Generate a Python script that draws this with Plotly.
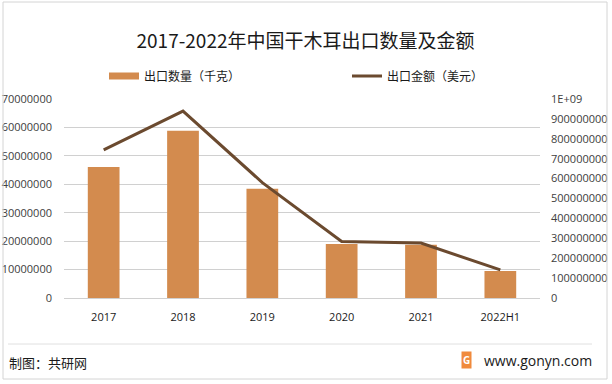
import plotly.graph_objects as go

categories = ["2017", "2018", "2019", "2020", "2021", "2022H1"]
quantity_kg = [46100000, 58800000, 38400000, 19000000, 18700000, 9500000]
amount_usd = [744000000, 939000000, 580000000, 284000000, 276000000, 141000000]
left_ticks = [0, 10000000, 20000000, 30000000, 40000000, 50000000, 60000000, 70000000]
right_ticks = [0, 100000000, 200000000, 300000000, 400000000, 500000000,
               600000000, 700000000, 800000000, 900000000, 1000000000]
right_labels = ["0", "100000000", "200000000", "300000000", "400000000", "500000000",
                "600000000", "700000000", "800000000", "900000000", "1E+09"]

FONT = "Open Sans, DejaVu Sans, sans-serif"
CJK = "Noto Sans CJK SC, Noto Sans, sans-serif"
BAR_COLOR = "#D38B4E"
LINE_COLOR = "#6B4A2F"

W, H = 612, 384
PL, PR, PT, PB = 64, 540, 99, 298
PW, PH = PR - PL, PB - PT


def px(x):
    return (x - PL) / PW


def py(y):
    return (PB - y) / PH


fig = go.Figure()
fig.add_trace(go.Bar(x=categories, y=quantity_kg, name="出口数量（千克）",
                     marker=dict(color=BAR_COLOR, line=dict(width=0)),
                     showlegend=False))
# legend-only swatch for the bars (wide flat rectangle as in the reference)
fig.add_trace(go.Scatter(x=[None], y=[None], name="出口数量（千克）", mode="lines",
                         line=dict(color=BAR_COLOR, width=7), legend="legend"))
fig.add_trace(go.Scatter(x=categories, y=amount_usd, name="出口金额（美元）",
                         mode="lines", line=dict(color=LINE_COLOR, width=3),
                         yaxis="y2", legend="legend2"))

fig.update_layout(
    width=W, height=H,
    margin=dict(l=PL, r=W - PR, t=PT, b=H - PB, autoexpand=False),
    paper_bgcolor="white", plot_bgcolor="white",
    bargap=0.6,
    title=dict(text="2017-2022年中国干木耳出口数量及金额", x=305.5 / W, xanchor="center",
               y=1 - 41 / H, yanchor="middle",
               font=dict(family=CJK, size=19, color="#1a1a1a")),
    xaxis=dict(showgrid=False, showline=True, linecolor="#d0d0d0", linewidth=1,
               ticks="", automargin=False, ticklabelstandoff=9,
               tickfont=dict(family=FONT, size=11, color="#1a1a1a")),
    yaxis=dict(range=[0, 70000000], tickvals=left_ticks, tickformat="d",
               showgrid=True, gridcolor="#d0d0d0", gridwidth=1, zeroline=False,
               ticks="", ticklabelstandoff=11, automargin=False,
               tickfont=dict(family=FONT, size=11, color="#404040")),
    yaxis2=dict(range=[0, 1000000000], overlaying="y", side="right",
                tickvals=right_ticks, ticktext=right_labels, showgrid=False,
                zeroline=False, ticks="", ticklabelstandoff=10, automargin=False,
                tickfont=dict(family=FONT, size=11, color="#404040")),
    legend=dict(xref="container", yref="container", x=104 / W, y=1 - 76 / H,
                xanchor="left", yanchor="middle", orientation="h", itemwidth=30,
                font=dict(family=CJK, size=12, color="#1a1a1a"), bgcolor="rgba(0,0,0,0)"),
    legend2=dict(xref="container", yref="container", x=347 / W, y=1 - 76 / H,
                 xanchor="left", yanchor="middle", orientation="h", itemwidth=30,
                 font=dict(family=CJK, size=12, color="#1a1a1a"), bgcolor="rgba(0,0,0,0)"),
    showlegend=True,
)

# footer separator and chart border
fig.add_shape(type="line", xref="paper", yref="paper",
              x0=px(8), x1=px(592), y0=py(344), y1=py(344),
              line=dict(color="#e0e0e0", width=1))
fig.add_shape(type="rect", xref="paper", yref="paper",
              x0=px(3), x1=px(607), y0=py(379), y1=py(2),
              line=dict(color="#d4d4d4", width=1))
fig.add_annotation(text="制图：共研网", xref="paper", yref="paper",
                   x=px(7), y=py(362), xanchor="left", yanchor="middle",
                   showarrow=False, font=dict(family=CJK, size=13, color="#1a1a1a"))
fig.add_annotation(text="www.gonyn.com", xref="paper", yref="paper",
                   x=px(594), y=py(360), xanchor="right", yanchor="middle",
                   showarrow=False, font=dict(family=FONT, size=14, color="#1a1a1a"))
fig.add_annotation(text="<b>G</b>", xref="paper", yref="paper",
                   x=px(466), y=py(360), xanchor="center", yanchor="middle",
                   showarrow=False, bgcolor="#F08A3C", borderpad=1,
                   font=dict(family=FONT, size=10, color="white"))

fig.write_html("out.html", config={"displayModeBar": False},
               post_script="document.body.style.margin='0';document.body.style.overflow='hidden';")
